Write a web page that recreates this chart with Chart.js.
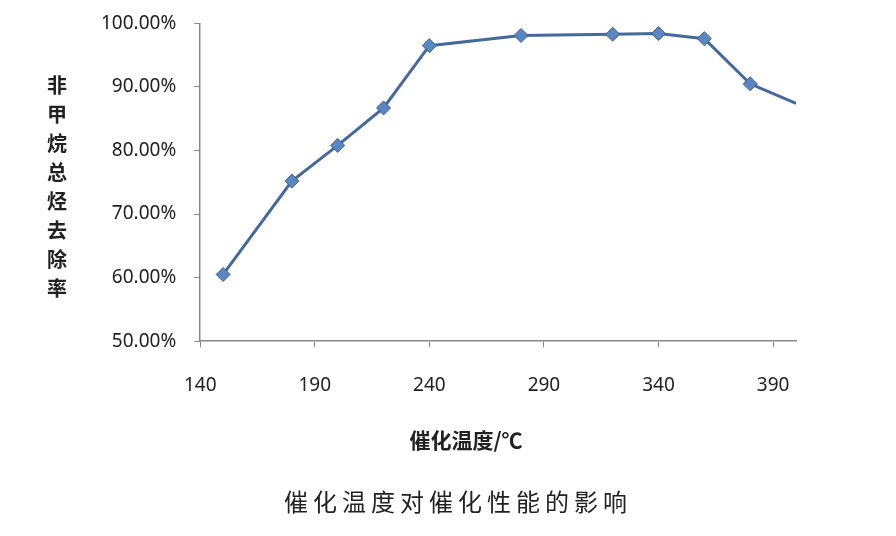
<!DOCTYPE html>
<html>
<head>
<meta charset="utf-8">
<script src="https://cdn.jsdelivr.net/npm/chart.js@4"></script>
<style>
  html, body { margin: 0; padding: 0; background: #fff; }
  #wrap { width: 896px; height: 536px; overflow: hidden; }
  #c { display: block; margin-top: -6px; }
</style>
</head>
<body>
<div id="wrap"><canvas id="c" width="896" height="542"></canvas></div>
<script>
// catalyst temperature vs. NMHC removal rate
const temps = [150, 180, 200, 220, 240, 280, 320, 340, 360, 380, 400];
const removal = [60.5, 75.2, 80.8, 86.7, 96.5, 98.1, 98.3, 98.4, 97.6, 90.5, 87.4];
const xTicks = [140, 190, 240, 290, 340, 390];
const yTicks = [50, 60, 70, 80, 90, 100];
const yTitle = "非甲烷总烃去除率";
const xTitle = "催化温度/℃";
const caption = "催化温度对催化性能的影响";

const numFont = "'Noto Sans', 'DejaVu Sans', sans-serif";
const cjkFont = "'Noto Sans CJK SC', sans-serif";

// vertical stacked y-axis title, x-axis title and caption
// (canvas is shifted up 6px, so y here = page y + 6)
const extraText = {
  id: "extraText",
  afterDraw(chart) {
    const ctx = chart.ctx;
    ctx.save();
    ctx.fillStyle = "#222";
    ctx.textAlign = "center";
    ctx.textBaseline = "middle";
    ctx.font = "bold 20px " + cjkFont;
    [...yTitle].forEach((ch, i) => ctx.fillText(ch, 57, 91 + i * 29));
    ctx.font = "bold 21px " + cjkFont;
    ctx.fillText(xTitle, 466, 446);
    ctx.font = "24px " + cjkFont;
    ctx.letterSpacing = "5px";
    ctx.fillText(caption, 458, 508);
    ctx.restore();
  }
};

new Chart(document.getElementById("c"), {
  type: "line",
  data: {
    datasets: [{
      data: temps.map((t, i) => ({ x: t, y: removal[i] })),
      borderColor: "#44699a",
      borderWidth: 3,
      pointStyle: "rectRot",
      pointRadius: temps.map((t, i) => (i === temps.length - 1 ? 0 : 7)),
      pointBackgroundColor: "#5a86c2",
      pointBorderColor: "#3d6090",
      pointBorderWidth: 1,
      tension: 0
    }]
  },
  plugins: [extraText],
  options: {
    responsive: false,
    animation: false,
    layout: { padding: { left: 83, right: 100, top: 0, bottom: 112 } },
    plugins: { legend: { display: false }, tooltip: { enabled: false } },
    scales: {
      x: {
        type: "linear",
        min: 140,
        max: 400,
        afterBuildTicks: (s) => { s.ticks = xTicks.map(v => ({ value: v })); },
        grid: { drawOnChartArea: false, drawTicks: true, tickLength: 6, color: "#888" },
        border: { color: "#888", width: 1.5 },
        ticks: { color: "#222", font: { family: numFont, size: 19 }, padding: 27, maxRotation: 0 }
      },
      y: {
        min: 50,
        max: 100,
        afterBuildTicks: (s) => { s.ticks = yTicks.map(v => ({ value: v })); },
        grid: { drawOnChartArea: false, drawTicks: true, tickLength: 6, color: "#888" },
        border: { color: "#888", width: 1.5 },
        ticks: { color: "#222", font: { family: numFont, size: 19 }, padding: 18, callback: (v) => v.toFixed(2) + "%" }
      }
    }
  }
});
</script>
</body>
</html>
